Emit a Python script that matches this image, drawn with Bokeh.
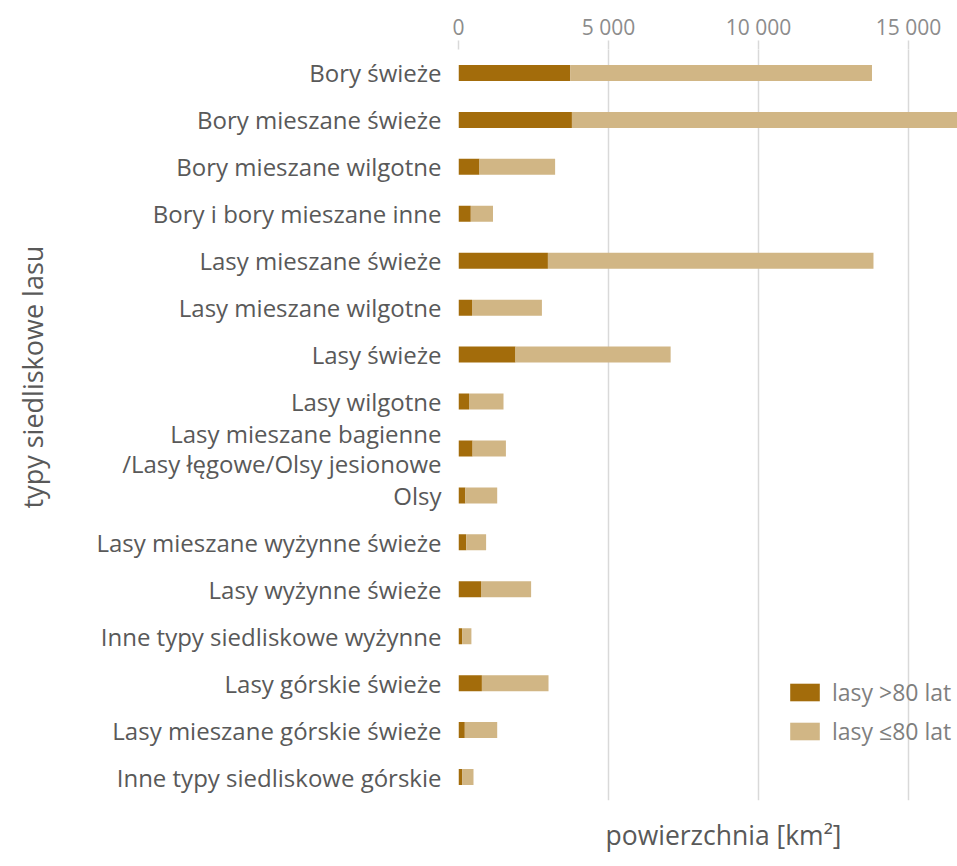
from bokeh.plotting import figure
from bokeh.models import ColumnDataSource, FactorRange, Range1d, FixedTicker, Legend, Title
from bokeh.embed import file_html
from bokeh.resources import INLINE

categories = [
    "Bory świeże",
    "Bory mieszane świeże",
    "Bory mieszane wilgotne",
    "Bory i bory mieszane inne",
    "Lasy mieszane świeże",
    "Lasy mieszane wilgotne",
    "Lasy świeże",
    "Lasy wilgotne",
    "Lasy mieszane bagienne\n/Lasy łęgowe/Olsy jesionowe",
    "Olsy",
    "Lasy mieszane wyżynne świeże",
    "Lasy wyżynne świeże",
    "Inne typy siedliskowe wyżynne",
    "Lasy górskie świeże",
    "Lasy mieszane górskie świeże",
    "Inne typy siedliskowe górskie",
]
old_forest = [3720, 3780, 700, 410, 2980, 450, 1900, 350, 470, 230, 260, 750, 120, 780, 210, 130]
total_area = [13780, 17300, 3220, 1150, 13830, 2780, 7070, 1500, 1580, 1290, 920, 2420, 430, 3000, 1290, 500]
young_forest = [t - o for t, o in zip(total_area, old_forest)]
series_labels = ["lasy >80 lat", "lasy ≤80 lat"]
tick_values = [0, 5000, 10000, 15000]
tick_labels = ["0", "5 000", "10 000", "15 000"]
x_max = 16630

FONT = "Open Sans"
DARK = "#a36c0b"
LIGHT = "#d1b685"
TEXT = "#595959"
GRID = "#d9d9d9"

source = ColumnDataSource(dict(cat=categories, old=old_forest, young=young_forest))

p = figure(
    width=957, height=866,
    y_range=FactorRange(factors=list(reversed(categories)), range_padding=0),
    x_range=Range1d(0, x_max),
    x_axis_location="above",
    output_backend="svg", toolbar_location=None,
    min_border_left=458, min_border_right=0, min_border_top=49, min_border_bottom=64,
)
p.outline_line_color = None
p.background_fill_color = "white"

renderers = p.hbar_stack(["old", "young"], y="cat", height=0.34, color=[DARK, LIGHT],
                         line_color=None, source=source)

# top axis
xa = p.xaxis[0]
xa.ticker = FixedTicker(ticks=tick_values)
xa.major_label_overrides = {v: l for v, l in zip(tick_values, tick_labels)}
xa.axis_line_color = None
xa.major_tick_in = 0
xa.major_tick_out = 9
xa.major_tick_line_color = GRID
xa.major_tick_line_width = 1.5
xa.minor_tick_line_color = None
xa.major_label_standoff = 0
xa.major_label_text_font = FONT
xa.major_label_text_font_size = "21px"
xa.major_label_text_color = "#8c8c8c"

p.xgrid.ticker = FixedTicker(ticks=tick_values)
p.xgrid.grid_line_color = GRID
p.xgrid.grid_line_width = 1.5
p.ygrid.grid_line_color = None

# left axis
ya = p.yaxis[0]
ya.axis_line_color = None
ya.major_tick_line_color = None
ya.minor_tick_line_color = None
ya.major_label_standoff = 11
ya.major_label_text_font = FONT
ya.major_label_text_font_size = "24px"
ya.major_label_text_color = TEXT
ya.major_label_text_line_height = 0.89
ya.axis_label = " "
ya.axis_label_text_font_size = "1px"
ya.axis_label_standoff = 29

title_y = Title(text="typy siedliskowe lasu", align="left", offset=292, standoff=20,
                text_font=FONT, text_font_size="27px", text_font_style="normal",
                text_color=TEXT)
p.add_layout(title_y, "left")

title_x = Title(text="powierzchnia [km²]", align="left", offset=147, standoff=28,
                vertical_align="bottom",
                text_font=FONT, text_font_size="26.5px", text_font_style="normal",
                text_color=TEXT)
p.add_layout(title_x, "below")

legend = Legend(items=[(series_labels[0], [renderers[0]]), (series_labels[1], [renderers[1]])],
                location=(328, 53))
legend.padding = 0
legend.margin = 0
legend.border_line_color = None
legend.background_fill_alpha = 0
legend.glyph_width = 37
legend.glyph_height = 22
legend.label_height = 18
legend.spacing = 7
legend.label_standoff = 9
legend.label_text_font = FONT
legend.label_text_font_size = "23px"
legend.label_text_color = "#7f7f7f"
p.add_layout(legend)

open("out.html", "w").write(file_html(p, INLINE))
